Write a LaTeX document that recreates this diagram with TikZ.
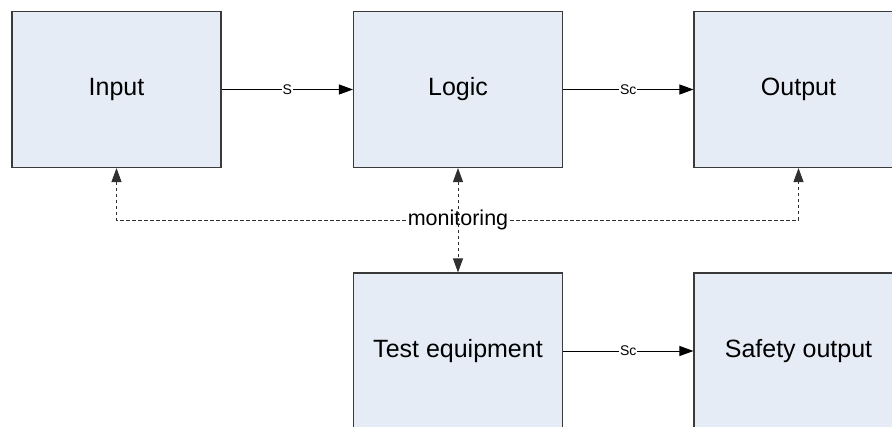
\documentclass[tikz,border=0pt]{standalone}
\usepackage{fontspec}
\setmainfont{Liberation Sans}
\usetikzlibrary{arrows.meta}
\definecolor{boxfill}{HTML}{E6ECF6}
\definecolor{boxline}{HTML}{3A3A3A}
\definecolor{monline}{HTML}{303030}
\tikzset{
  block/.style={draw=boxline, line width=1.1pt, fill=boxfill, rectangle,
    minimum width=209pt, minimum height=156pt, inner sep=0pt,
    font=\fontsize{25}{28}\selectfont},
  flow/.style={draw=black, line width=0.9pt, -{Triangle[length=14pt,width=10pt]}},
  mon/.style={draw=monline, line width=0.9pt, dash pattern=on 3.5pt off 2.5pt,
    {Triangle[length=14pt,width=10pt]}-{Triangle[length=14pt,width=10pt]}},
  sig/.style={fill=white, inner sep=1pt, font=\fontsize{14}{16}\selectfont},
  montext/.style={fill=white, inner sep=1pt, font=\fontsize{21.5}{24}\selectfont}
}
\begin{document}
\begin{tikzpicture}[x=1pt,y=-1pt]
  \useasboundingbox (0,0) rectangle (892,427);
  \clip (0,0) rectangle (892,427);

  % function blocks
  \node[block] (input)  at (116.5,89.5) {Input};
  \node[block] (logic)  at (458,89.5)   {Logic};
  \node[block] (output) at (798.5,89.5) {Output};
  \node[block] (test)   at (458,351)    {Test equipment};
  \node[block] (safety) at (798.5,351)  {Safety output};

  % signal paths
  \draw[flow] (input.east) -- node[sig] {S} (logic.west);
  \draw[flow] (logic.east) -- node[sig] {Sc} (output.west);
  \draw[flow] (test.east) -- node[sig] {Sc} (safety.west);

  % monitoring bus
  \coordinate (bus) at (458,220);
  \draw[mon] (input.south) |- (bus) -| (output.south);
  \node[montext] (montag) at (bus) {monitoring};
  \draw[mon] (logic.south) -- (test.north);
\end{tikzpicture}
\end{document}
